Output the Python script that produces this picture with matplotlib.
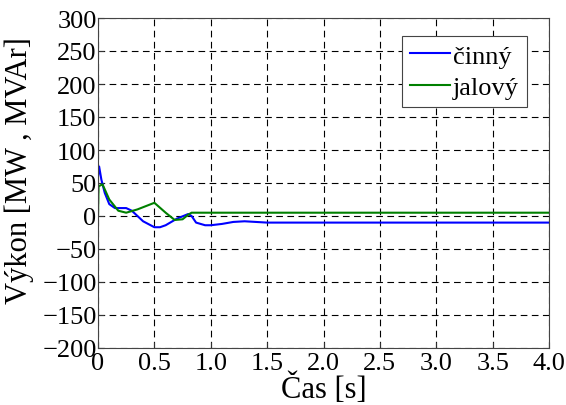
import matplotlib
matplotlib.use("Agg")
import matplotlib.pyplot as plt

# Time axis [s] and power responses
t_p = [0, 0.01, 0.03, 0.06, 0.10, 0.15, 0.20, 0.25, 0.30, 0.40, 0.50, 0.55,
       0.60, 0.70, 0.80, 0.83, 0.87, 0.95, 1.00, 1.10, 1.20, 1.30, 1.40,
       1.50, 1.60, 2.00, 4.00]
p_active = [60, 75, 55, 35, 18, 12, 12, 12, 8, -8, -17, -17,
            -14, -4, 3, 0, -10, -14, -14, -12, -9, -8, -9,
            -10, -10, -10, -10]

t_q = [0, 0.005, 0.04, 0.10, 0.18, 0.25, 0.35, 0.50, 0.60, 0.68, 0.75,
       0.80, 0.83, 4.00]
q_reactive = [0, 45, 48, 25, 8, 5, 10, 20, 5, -6, -5, 2, 5, 5]

xticks = [0, 0.5, 1.0, 1.5, 2.0, 2.5, 3.0, 3.5, 4.0]
xticklabels = ["0", "0.5", "1.0", "1.5", "2.0", "2.5", "3.0", "3.5", "4.0"]
yticks = list(range(-200, 301, 50))

plt.rcParams["font.family"] = ["Liberation Serif", "DejaVu Serif"]

fig = plt.figure(figsize=(5.66, 4.06), dpi=100)
ax = fig.add_axes([98 / 566, 1 - 349 / 406, 451 / 566, 330 / 406])

ax.plot(t_p, p_active, color="#0000ff", lw=1.5, label="činný")
ax.plot(t_q, q_reactive, color="#008000", lw=1.5, label="jalový")

ax.set_xlim(0, 4)
ax.set_ylim(-200, 300)
ax.set_xticks(xticks)
ax.set_xticklabels(xticklabels)
ax.set_yticks(yticks)
ax.tick_params(direction="in", length=4, labelsize=19, pad=1, colors="#333333",
               labelcolor="black")
ax.tick_params(axis="x", pad=3)
ax.grid(True, color="black", linestyle=(0, (6, 4)), linewidth=0.8)
for s in ax.spines.values():
    s.set_color("#444444")
    s.set_linewidth(0.8)

ax.set_xlabel("Čas [s]", fontsize=22)
ax.xaxis.set_label_coords(0.5, -0.074)
ax.set_ylabel("Výkon [MW , MVAr]", fontsize=22)
ax.yaxis.set_label_coords(-0.142, 0.542)

leg = ax.legend(loc="upper right", bbox_to_anchor=(0.951, 0.945), fontsize=19,
                fancybox=False, edgecolor="#444444", framealpha=1,
                handlelength=1.5, handletextpad=0.12, borderpad=0.3,
                labelspacing=0.3, borderaxespad=0)
leg.get_frame().set_linewidth(0.8)

fig.savefig("out.png", dpi=100)
